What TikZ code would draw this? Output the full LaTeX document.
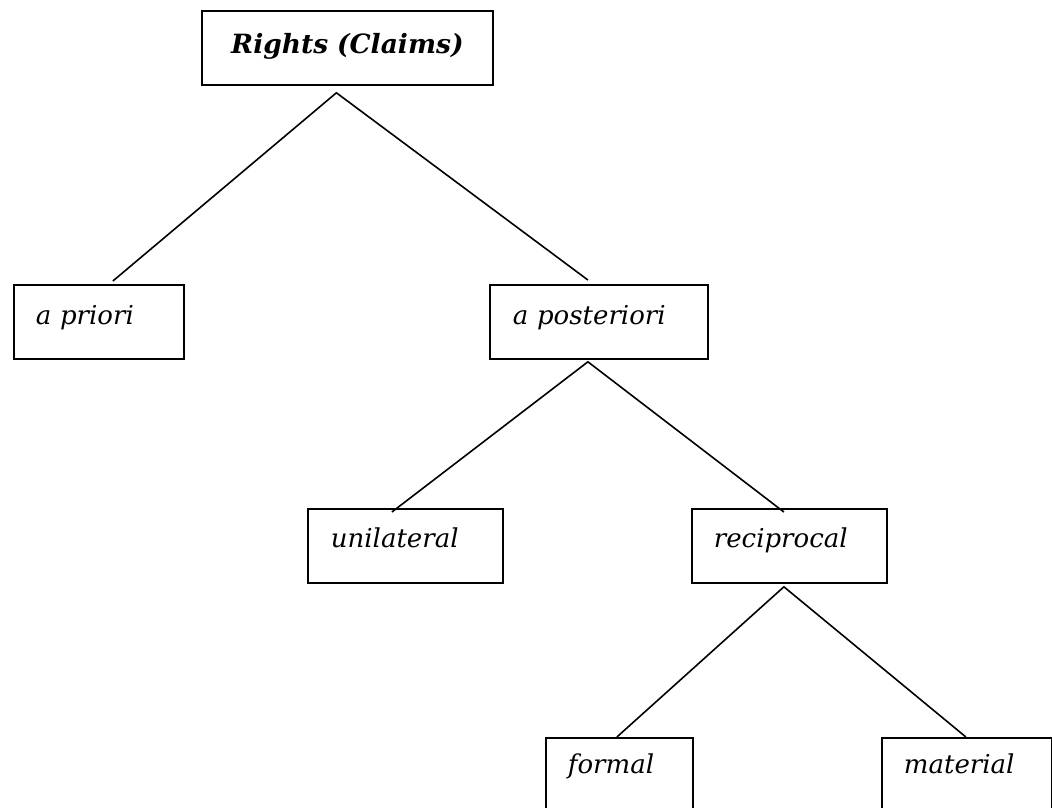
\documentclass[tikz,border=0pt]{standalone}
\usepackage{fontspec}
\setmainfont{DejaVu Serif}
\tikzset{
  box/.style={draw, line width=1.8pt, anchor=north west, inner xsep=22pt, inner ysep=0pt,
    align=left, font=\fontsize{26}{30}\selectfont\itshape},
  branch/.style={line width=1.6pt}
}
\begin{document}
\begin{tikzpicture}[x=1pt,y=-1pt]
  \clip (0,0) rectangle (1052,807);
  \node[box, inner xsep=0pt, align=center, text width=291pt, text height=43pt, text depth=31pt,
    font=\fontsize{26.5}{30}\selectfont\bfseries\itshape] (rights) at (201,10) {Rights (Claims)};
  \node[box, text width=126pt, text height=40pt, text depth=34pt] (apriori) at (13,284) {a priori};
  \node[box, inner xsep=23pt, text width=172pt, text height=40pt, text depth=34pt] (apost) at (489,284) {a posteriori};
  \node[box, inner xsep=23pt, text width=149pt, text height=39pt, text depth=35pt] (unilat) at (307,508) {unilateral};
  \node[box, text width=151pt, text height=39pt, text depth=35pt] (recip) at (691,508) {reciprocal};
  \node[box, text width=103pt, text height=36pt, text depth=60pt] (formal) at (545,737) {formal};
  \node[box, text width=126pt, text height=36pt, text depth=60pt] (material) at (881,737) {material};
  % branches
  \draw[branch] ([xshift=14pt,yshift=3pt]apriori.north) -- ([xshift=-11pt,yshift=-7pt]rights.south)
    -- ([xshift=-11pt,yshift=4pt]apost.north);
  \draw[branch] ([xshift=-13.5pt,yshift=-4pt]unilat.north) -- ([xshift=-11pt,yshift=-2pt]apost.south)
    -- ([xshift=-5.5pt,yshift=-4pt]recip.north);
  \draw[branch] ([xshift=-2.5pt]formal.north) -- ([xshift=-5.5pt,yshift=-3pt]recip.south)
    -- ([xshift=-1pt]material.north);
\end{tikzpicture}
\end{document}
